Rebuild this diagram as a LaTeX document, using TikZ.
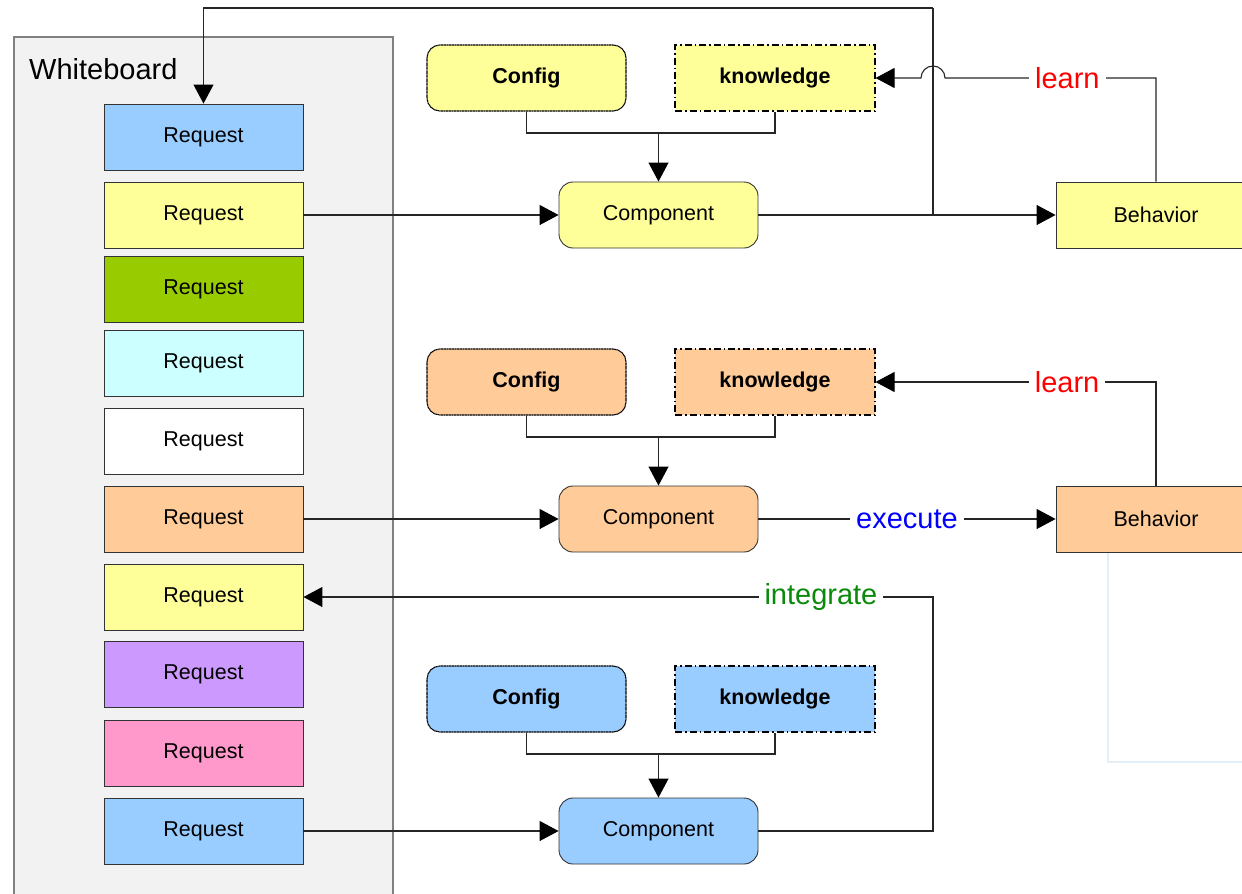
\documentclass[tikz,border=0pt]{standalone}
\usepackage{fontspec}
\setmainfont{Liberation Sans}
\usetikzlibrary{arrows.meta}
\definecolor{cblue}{HTML}{99CCFF}
\definecolor{cyellow}{HTML}{FFFF99}
\definecolor{cgreen}{HTML}{99CC00}
\definecolor{ccyan}{HTML}{CCFFFF}
\definecolor{corange}{HTML}{FFCC99}
\definecolor{cpurple}{HTML}{CC99FF}
\definecolor{cpink}{HTML}{FF99CC}
\definecolor{wbfill}{HTML}{F2F2F2}
\definecolor{wbline}{HTML}{808080}
\definecolor{boxline}{HTML}{333333}
\definecolor{faint}{HTML}{E2EEF8}
\definecolor{lgreen}{HTML}{0A8A0A}
\tikzset{
  req/.style={draw=boxline,line width=0.9pt,minimum width=199pt,minimum height=66pt,inner sep=0pt,
    font=\fontsize{21.5}{25}\selectfont},
  cfg/.style={draw=black,line width=1.1pt,dash pattern=on 1.2pt off 0.4pt,rounded corners=13pt,minimum width=199pt,minimum height=66pt,inner sep=0pt,
    font=\fontsize{21.5}{25}\selectfont\bfseries},
  know/.style={draw=black,line width=1.1pt,dash pattern=on 7pt off 3pt on 1.5pt off 3pt,minimum width=200pt,minimum height=66pt,inner sep=0pt,
    font=\fontsize{21.5}{25}\selectfont\bfseries},
  comp/.style={draw=boxline,line width=0.9pt,rounded corners=14pt,minimum width=199pt,minimum height=66pt,inner sep=0pt,
    font=\fontsize{21.5}{25}\selectfont},
  beh/.style={draw=boxline,line width=0.9pt,minimum width=200pt,minimum height=66pt,inner sep=0pt,
    font=\fontsize{21.5}{25}\selectfont},
  conn/.style={draw=black!85,line width=1.1pt},
  arr/.style={conn,-{Triangle[length=19pt,width=20pt,color=black]}},
  lbl/.style={fill=white,inner xsep=6pt,inner ysep=2pt,font=\fontsize{29}{32}\selectfont},
}
\begin{document}
\begin{tikzpicture}[x=1pt,y=-1pt]
\useasboundingbox (0,0) rectangle (1242,894);
% whiteboard
\draw[wbline,fill=wbfill,line width=1.6pt] (14,37) rectangle (393,910);
\node[anchor=west,font=\fontsize{29}{32}\selectfont,inner sep=0pt] (wb) at (29,69) {Whiteboard};
% faint rectangle
\draw[faint,line width=2pt] (1108,552) -- (1108,762) -- (1260,762);
% requests
\node[req,fill=cblue] (r1) at (203.5,137) {Request};
\node[req,fill=cyellow] (r2) at (203.5,215) {Request};
\node[req,fill=cgreen] (r3) at (203.5,289) {Request};
\node[req,fill=ccyan] (r4) at (203.5,363) {Request};
\node[req,fill=white] (r5) at (203.5,441) {Request};
\node[req,fill=corange] (r6) at (203.5,519) {Request};
\node[req,fill=cyellow] (r7) at (203.5,597) {Request};
\node[req,fill=cpurple] (r8) at (203.5,674) {Request};
\node[req,fill=cpink] (r9) at (203.5,753) {Request};
\node[req,fill=cblue] (r10) at (203.5,831) {Request};
% group 1
\node[cfg,fill=cyellow] (cf1) at (526.5,78) {Config};
\node[know,fill=cyellow] (k1) at (775,78) {knowledge};
\node[comp,fill=cyellow] (c1) at (658.5,215) {Component};
\node[beh,fill=cyellow] (b1) at (1156,215) {Behavior};
% group 2
\node[cfg,fill=corange] (cf2) at (526.5,382) {Config};
\node[know,fill=corange] (k2) at (775,382) {knowledge};
\node[comp,fill=corange] (c2) at (658.5,519) {Component};
\node[beh,fill=corange] (b2) at (1156,519) {Behavior};
% group 3
\node[cfg,fill=cblue] (cf3) at (526.5,699) {Config};
\node[know,fill=cblue] (k3) at (775,699) {knowledge};
\node[comp,fill=cblue] (c3) at (658.5,831) {Component};
% coordinates
\coordinate (m1) at (658.5,133);
\coordinate (m2) at (658.5,437);
\coordinate (m3) at (658.5,754);
\coordinate (j1) at (933,215);
\coordinate (t1) at (933,8);
\coordinate (l1) at (1156,78);
\coordinate (h1) at (945,78);
\coordinate (l2) at (1156,382);
\coordinate (j3) at (933,831);
\coordinate (i3) at (933,597);
% group 1 connectors
\draw[conn] (cf1.south) |- (m1) -| (k1.south);
\draw[arr] (m1) -- (c1.north);
\draw[arr] (r2.east) -- (c1.west);
\draw[arr] (c1.east) -- (b1.west);
\draw[conn] (j1) -- (t1);
\draw[arr] (t1) -| (r1.north);
\draw[arr] (b1.north) -- (l1) -- node[lbl,text=red,pos=0.42]{learn} (h1) arc[start angle=0,end angle=180,radius=12pt] -- (k1.east);
% group 2 connectors
\draw[conn] (cf2.south) |- (m2) -| (k2.south);
\draw[arr] (m2) -- (c2.north);
\draw[arr] (r6.east) -- (c2.west);
\draw[arr] (c2.east) -- node[lbl,text=blue]{execute} (b2.west);
\draw[arr] (b2.north) -- (l2) -- node[lbl,text=red,pos=0.317]{learn} (k2.east);
% group 3 connectors
\draw[conn] (cf3.south) |- (m3) -| (k3.south);
\draw[arr] (m3) -- (c3.north);
\draw[arr] (r10.east) -- (c3.west);
\draw[arr] (c3.east) -- (j3) -- (i3) -- node[lbl,text=lgreen,pos=0.178]{integrate} (r7.east);
\end{tikzpicture}
\end{document}
